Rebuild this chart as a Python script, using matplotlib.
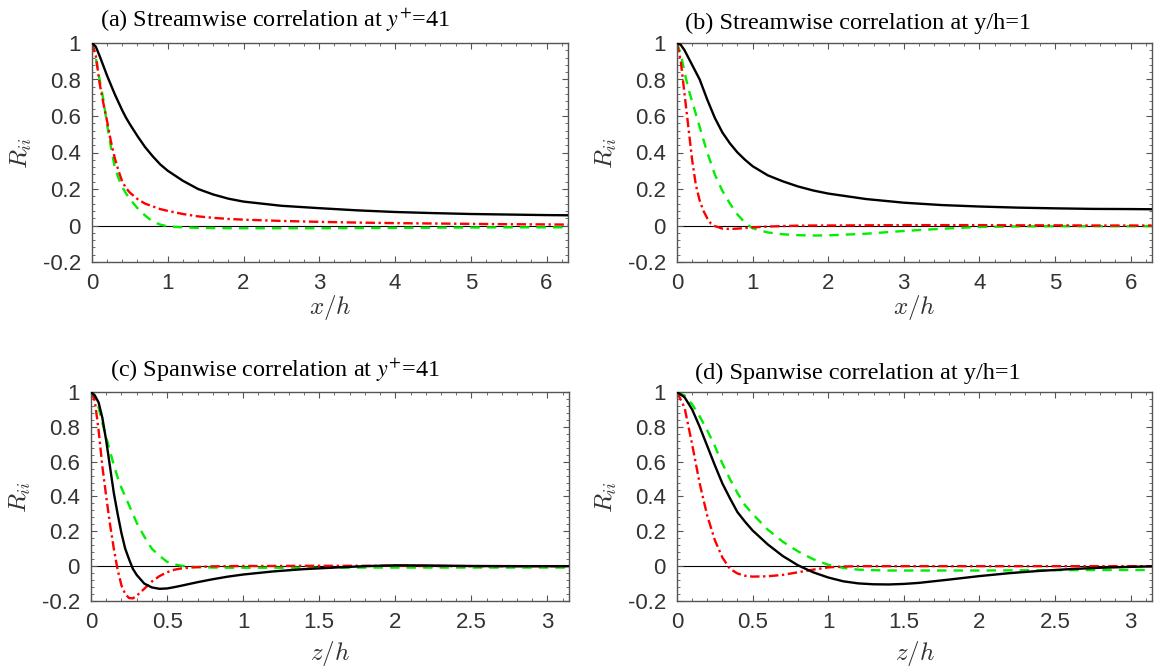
import numpy as np
import matplotlib
matplotlib.use('Agg')
import matplotlib.pyplot as plt
from matplotlib.ticker import MultipleLocator, FormatStrFormatter

plt.rcParams['font.family'] = 'Liberation Sans'
plt.rcParams['mathtext.fontset'] = 'cm'
plt.rcParams['axes.unicode_minus'] = False

# ---- (a) streamwise, y+=41
xa = [0, 0.05, 0.1, 0.15, 0.2, 0.25, 0.3, 0.35, 0.4, 0.45, 0.5, 0.6, 0.7, 0.8, 0.9, 1.0,
      1.2, 1.4, 1.6, 1.8, 2.0, 2.5, 3.0, 3.5, 4.0, 4.5, 5.0, 5.5, 6.0, 6.28]
a_black = [1, 0.98, 0.93, 0.875, 0.82, 0.77, 0.72, 0.675, 0.63, 0.59, 0.555, 0.49, 0.43, 0.38, 0.335, 0.30,
           0.245, 0.2, 0.17, 0.147, 0.131, 0.108, 0.095, 0.083, 0.074, 0.068, 0.063, 0.06, 0.057, 0.056]
a_red = [1, 0.93, 0.78, 0.67, 0.57, 0.46, 0.37, 0.30, 0.24, 0.205, 0.18, 0.145, 0.12, 0.105, 0.09, 0.08,
         0.063, 0.05, 0.042, 0.036, 0.032, 0.025, 0.02, 0.016, 0.013, 0.011, 0.009, 0.007, 0.006, 0.005]
a_green = [1, 0.92, 0.8, 0.69, 0.55, 0.43, 0.32, 0.26, 0.21, 0.175, 0.145, 0.095, 0.055, 0.022, 0.005, -0.005,
           -0.01, -0.013, -0.014, -0.015, -0.015, -0.015, -0.015, -0.014, -0.013, -0.012, -0.011, -0.01, -0.01, -0.01]

# ---- (b) streamwise, y/h=1
xb = [0, 0.05, 0.1, 0.15, 0.2, 0.25, 0.3, 0.35, 0.4, 0.45, 0.5, 0.6, 0.7, 0.8, 0.9, 1.0,
      1.2, 1.4, 1.6, 1.8, 2.0, 2.5, 3.0, 3.5, 4.0, 4.5, 5.0, 5.5, 6.0, 6.28]
b_black = [1, 0.99, 0.96, 0.92, 0.88, 0.84, 0.80, 0.745, 0.69, 0.64, 0.59, 0.51, 0.45, 0.40, 0.36, 0.325,
           0.275, 0.242, 0.214, 0.192, 0.175, 0.145, 0.125, 0.112, 0.104, 0.098, 0.094, 0.091, 0.09, 0.089]
b_red = [1, 0.9, 0.72, 0.54, 0.36, 0.22, 0.137, 0.08, 0.04, 0.01, -0.003, -0.017, -0.019, -0.017, -0.014, -0.01,
         -0.006, -0.003, -0.001, 0.0, 0.0, 0.001, 0.002, 0.002, 0.002, 0.001, 0.001, 0.0, 0.0, 0.0]
b_green = [1, 0.94, 0.84, 0.75, 0.68, 0.61, 0.54, 0.47, 0.40, 0.34, 0.28, 0.19, 0.12, 0.06, 0.015, -0.015,
           -0.038, -0.048, -0.053, -0.055, -0.054, -0.045, -0.03, -0.018, -0.008, -0.005, -0.004, -0.004, -0.004, -0.004]

# ---- (c) spanwise, y+=41
xc = [0, 0.025, 0.05, 0.075, 0.1, 0.125, 0.15, 0.175, 0.2, 0.225, 0.25, 0.275, 0.3, 0.35, 0.4,
      0.45, 0.5, 0.55, 0.6, 0.7, 0.8, 0.9, 1.0, 1.2, 1.4, 1.6, 1.8, 2.0, 2.2, 2.5, 2.8, 3.1416]
c_black = [1, 0.98, 0.94, 0.85, 0.72, 0.57, 0.42, 0.30, 0.19, 0.10, 0.04, -0.015, -0.05, -0.10, -0.122,
           -0.13, -0.128, -0.12, -0.111, -0.092, -0.075, -0.06, -0.048, -0.03, -0.017, -0.008, 0.0, 0.005, 0.004, 0.001, 0.0, 0.0]
c_red = [1, 0.95, 0.78, 0.57, 0.40, 0.24, 0.10, -0.02, -0.11, -0.16, -0.183, -0.185, -0.17, -0.13, -0.088,
         -0.057, -0.035, -0.02, -0.012, -0.005, -0.001, 0.0, 0.001, 0.001, 0.002, 0.002, 0.002, 0.002, 0.001, 0.0, 0.0, 0.0]
c_green = [1, 0.98, 0.91, 0.82, 0.74, 0.66, 0.58, 0.51, 0.45, 0.40, 0.35, 0.30, 0.25, 0.17, 0.10,
           0.06, 0.025, 0.01, 0.002, -0.006, -0.008, -0.009, -0.009, -0.009, -0.009, -0.009, -0.008, -0.008, -0.008, -0.008, -0.008, -0.008]

# ---- (d) spanwise, y/h=1
xd = [0, 0.05, 0.1, 0.15, 0.2, 0.25, 0.3, 0.35, 0.4, 0.45, 0.5, 0.6, 0.7, 0.8, 0.9, 1.0,
      1.1, 1.2, 1.3, 1.4, 1.5, 1.6, 1.8, 2.0, 2.2, 2.4, 2.6, 2.8, 3.0, 3.1416]
d_black = [1, 0.97, 0.9, 0.80, 0.69, 0.58, 0.475, 0.39, 0.31, 0.255, 0.205, 0.125, 0.058, 0.005, -0.035, -0.065,
           -0.087, -0.099, -0.104, -0.105, -0.102, -0.096, -0.077, -0.057, -0.04, -0.027, -0.017, -0.009, -0.004, -0.001]
d_red = [1, 0.91, 0.70, 0.475, 0.29, 0.15, 0.05, -0.015, -0.042, -0.055, -0.06, -0.058, -0.05, -0.035, -0.02, -0.007,
         -0.002, 0.0, 0.0, 0.0, 0.0, 0.0, 0.0, 0.0, 0.0, 0.0, 0.0, 0.0, 0.0, 0.0]
d_green = [1, 0.98, 0.93, 0.86, 0.78, 0.69, 0.59, 0.50, 0.42, 0.35, 0.30, 0.21, 0.14, 0.085, 0.04, 0.008,
           -0.01, -0.02, -0.023, -0.025, -0.025, -0.025, -0.025, -0.025, -0.024, -0.023, -0.023, -0.022, -0.022, -0.022]

titles = ['(a) Streamwise correlation at $y^{+}$=41', '(b) Streamwise correlation at y/h=1',
          '(c) Spanwise correlation at $y^{+}$=41', '(d) Spanwise correlation at y/h=1']
xlabels = ['$x/h$', '$x/h$', '$z/h$', '$z/h$']

panels = [(xa, a_black, a_red, a_green), (xb, b_black, b_red, b_green),
          (xc, c_black, c_red, c_green), (xd, d_black, d_red, d_green)]

fig = plt.figure(figsize=(11.55, 6.68), dpi=100)
W, H = 1155.0, 668.0
boxes = [(92, 43, 476, 219), (677, 43, 475, 219), (91, 392, 478, 209), (677, 392, 475, 209)]
title_off = [8, 8, 19, 18]
xlab_pad = [-1, -1, 4, 4]

gray = '#333333'
for i, (x, k, r, g) in enumerate(panels):
    l, t, w, h = boxes[i]
    ax = fig.add_axes([l / W, 1 - (t + h) / H, w / W, h / H])
    ax.axhline(0, color='k', lw=0.8, zorder=1)
    ax.plot(x, k, color='k', lw=1.7, zorder=3)
    ax.plot(x, g, color='#00ee00', lw=1.7, ls=(0, (4, 3)), zorder=2)
    ax.plot(x, r, color='#ff0000', lw=1.7, ls=(0, (4, 1.5, 1, 1.5)), zorder=2)
    ax.set_ylim(-0.2, 1.0)
    if i < 2:
        ax.set_xlim(0, 2 * np.pi)
        ax.xaxis.set_major_locator(MultipleLocator(1))
        ax.xaxis.set_minor_locator(MultipleLocator(0.2))
    else:
        ax.set_xlim(0, np.pi)
        ax.xaxis.set_major_locator(MultipleLocator(0.5))
        ax.xaxis.set_minor_locator(MultipleLocator(0.1))
    ax.yaxis.set_major_locator(MultipleLocator(0.2))
    ax.yaxis.set_minor_locator(MultipleLocator(0.04))
    ax.xaxis.set_major_formatter(FormatStrFormatter('%g'))
    ax.yaxis.set_major_formatter(FormatStrFormatter('%g'))
    ax.tick_params(which='both', direction='in', top=True, right=True, colors='#555555',
                   labelcolor=gray, labelsize=16)
    ax.tick_params(which='major', length=4.5, width=0.8)
    ax.tick_params(which='minor', length=2.5, width=0.6)
    ax.tick_params(axis='x', pad=8)
    ax.tick_params(axis='y', pad=8)
    for s in ax.spines.values():
        s.set_color('#555555')
        s.set_linewidth(1.0)
    ax.set_xlabel(xlabels[i], fontsize=18, color=gray, labelpad=xlab_pad[i])
    ax.set_ylabel('$R_{ii}$', fontsize=18, color=gray, labelpad=6)
    ax.text(title_off[i] / w, 1.04, titles[i], transform=ax.transAxes, fontsize=17.5,
            family='Liberation Serif', math_fontfamily='stix', ha='left', va='bottom', color='k')

plt.savefig('out.png', dpi=100)
